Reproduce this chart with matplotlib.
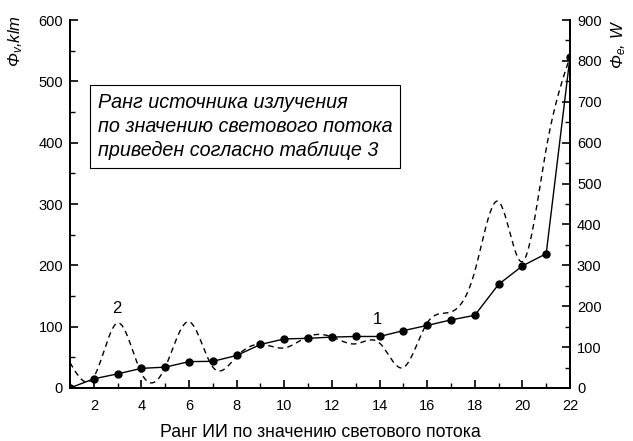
import numpy as np
import matplotlib
matplotlib.use("Agg")
import matplotlib.pyplot as plt

plt.rcParams['font.family'] = ['Liberation Sans', 'DejaVu Sans']
plt.rcParams['mathtext.fontset'] = 'custom'
plt.rcParams['mathtext.rm'] = 'Liberation Sans'
plt.rcParams['mathtext.it'] = 'Liberation Sans:italic'
plt.rcParams['mathtext.default'] = 'it'

# rank of the light source
rank = list(range(1, 23))
# curve 1: luminous flux, klm (left axis)
flux_v = [0, 15, 23, 32, 34, 43, 43.5, 53, 71, 80, 81, 83, 84, 84,
          93.5, 102, 111, 118.5, 169, 199, 219, 540]
# curve 2: radiant flux, W (right axis)
flux_e = [62, 27, 159, 36, 51, 162, 51, 77, 107, 98, 126, 125, 108, 110,
          50, 159, 186, 285, 456, 309, 585, 810]


def natural_spline(x, y, n=600):
    # smooth curve through the points, drawn like the original plot
    x = np.asarray(x, float)
    y = np.asarray(y, float)
    m = len(x)
    h = np.diff(x)
    A = np.zeros((m, m))
    b = np.zeros(m)
    A[0, 0] = A[-1, -1] = 1
    for i in range(1, m - 1):
        A[i, i - 1] = h[i - 1]
        A[i, i] = 2 * (h[i - 1] + h[i])
        A[i, i + 1] = h[i]
        b[i] = 6 * ((y[i + 1] - y[i]) / h[i] - (y[i] - y[i - 1]) / h[i - 1])
    M = np.linalg.solve(A, b)
    xs = np.linspace(x[0], x[-1], n)
    k = np.clip(np.searchsorted(x, xs) - 1, 0, m - 2)
    t0 = x[k + 1] - xs
    t1 = xs - x[k]
    hk = h[k]
    ys = (M[k] * t0 ** 3 / (6 * hk) + M[k + 1] * t1 ** 3 / (6 * hk)
          + (y[k] / hk - M[k] * hk / 6) * t0 + (y[k + 1] / hk - M[k + 1] * hk / 6) * t1)
    return xs, ys


fig = plt.figure(figsize=(6.33, 4.41), dpi=100)
ax = fig.add_axes([0.1106, 0.1202, 0.7899, 0.8344])
ax2 = ax.twinx()

ax.plot(rank, flux_v, color='black', lw=1.0, marker='o', markersize=5, zorder=3)
xs, ys = natural_spline(rank, flux_e)
ax2.plot(xs, ys, color='black', lw=1.0, linestyle=(0, (4, 3)))

ax.set_xlim(1, 22)
ax.set_ylim(0, 600)
ax2.set_ylim(0, 900)
ax.set_xticks(range(2, 23, 2))
ax.set_xticks(range(1, 23, 2), minor=True)
ax.set_yticks(range(0, 601, 100))
ax.set_yticks(range(50, 600, 100), minor=True)
ax2.set_yticks(range(0, 901, 100))
ax2.set_yticks(range(50, 900, 100), minor=True)

for a in (ax, ax2):
    a.spines['top'].set_visible(False)
    for s in a.spines.values():
        s.set_linewidth(1.3)
    a.tick_params(direction='in', which='major', length=6, width=1.2, labelsize=10.5)
    a.tick_params(direction='in', which='minor', length=3.5, width=1.0)
ax.tick_params(axis='x', pad=8)
ax.tick_params(axis='y', pad=5)
ax2.tick_params(axis='y', pad=5)

ax.set_xlabel('Ранг ИИ по значению светового потока', fontsize=12.8, labelpad=8)

fig.text(0.024, 0.965, 'Φ$_v$,klm', rotation=90, va='top', ha='center',
         fontsize=12, style='italic')
fig.text(0.977, 0.955, 'Φ$_e$, W', rotation=90, va='top', ha='center',
         fontsize=12, style='italic')

ax.text(2.16, 426, 'Ранг источника излучения\nпо значению светового потока\nприведен согласно таблице 3',
        fontsize=14.2, style='italic', va='center', ha='left', linespacing=1.33,
        bbox=dict(boxstyle='square,pad=0.4', facecolor='white', edgecolor='black', lw=0.8))

ax.text(2.97, 129, '2', fontsize=12, ha='center', va='center')
ax.text(13.9, 111, '1', fontsize=12, ha='center', va='center')

fig.savefig('out.png', dpi=100)
